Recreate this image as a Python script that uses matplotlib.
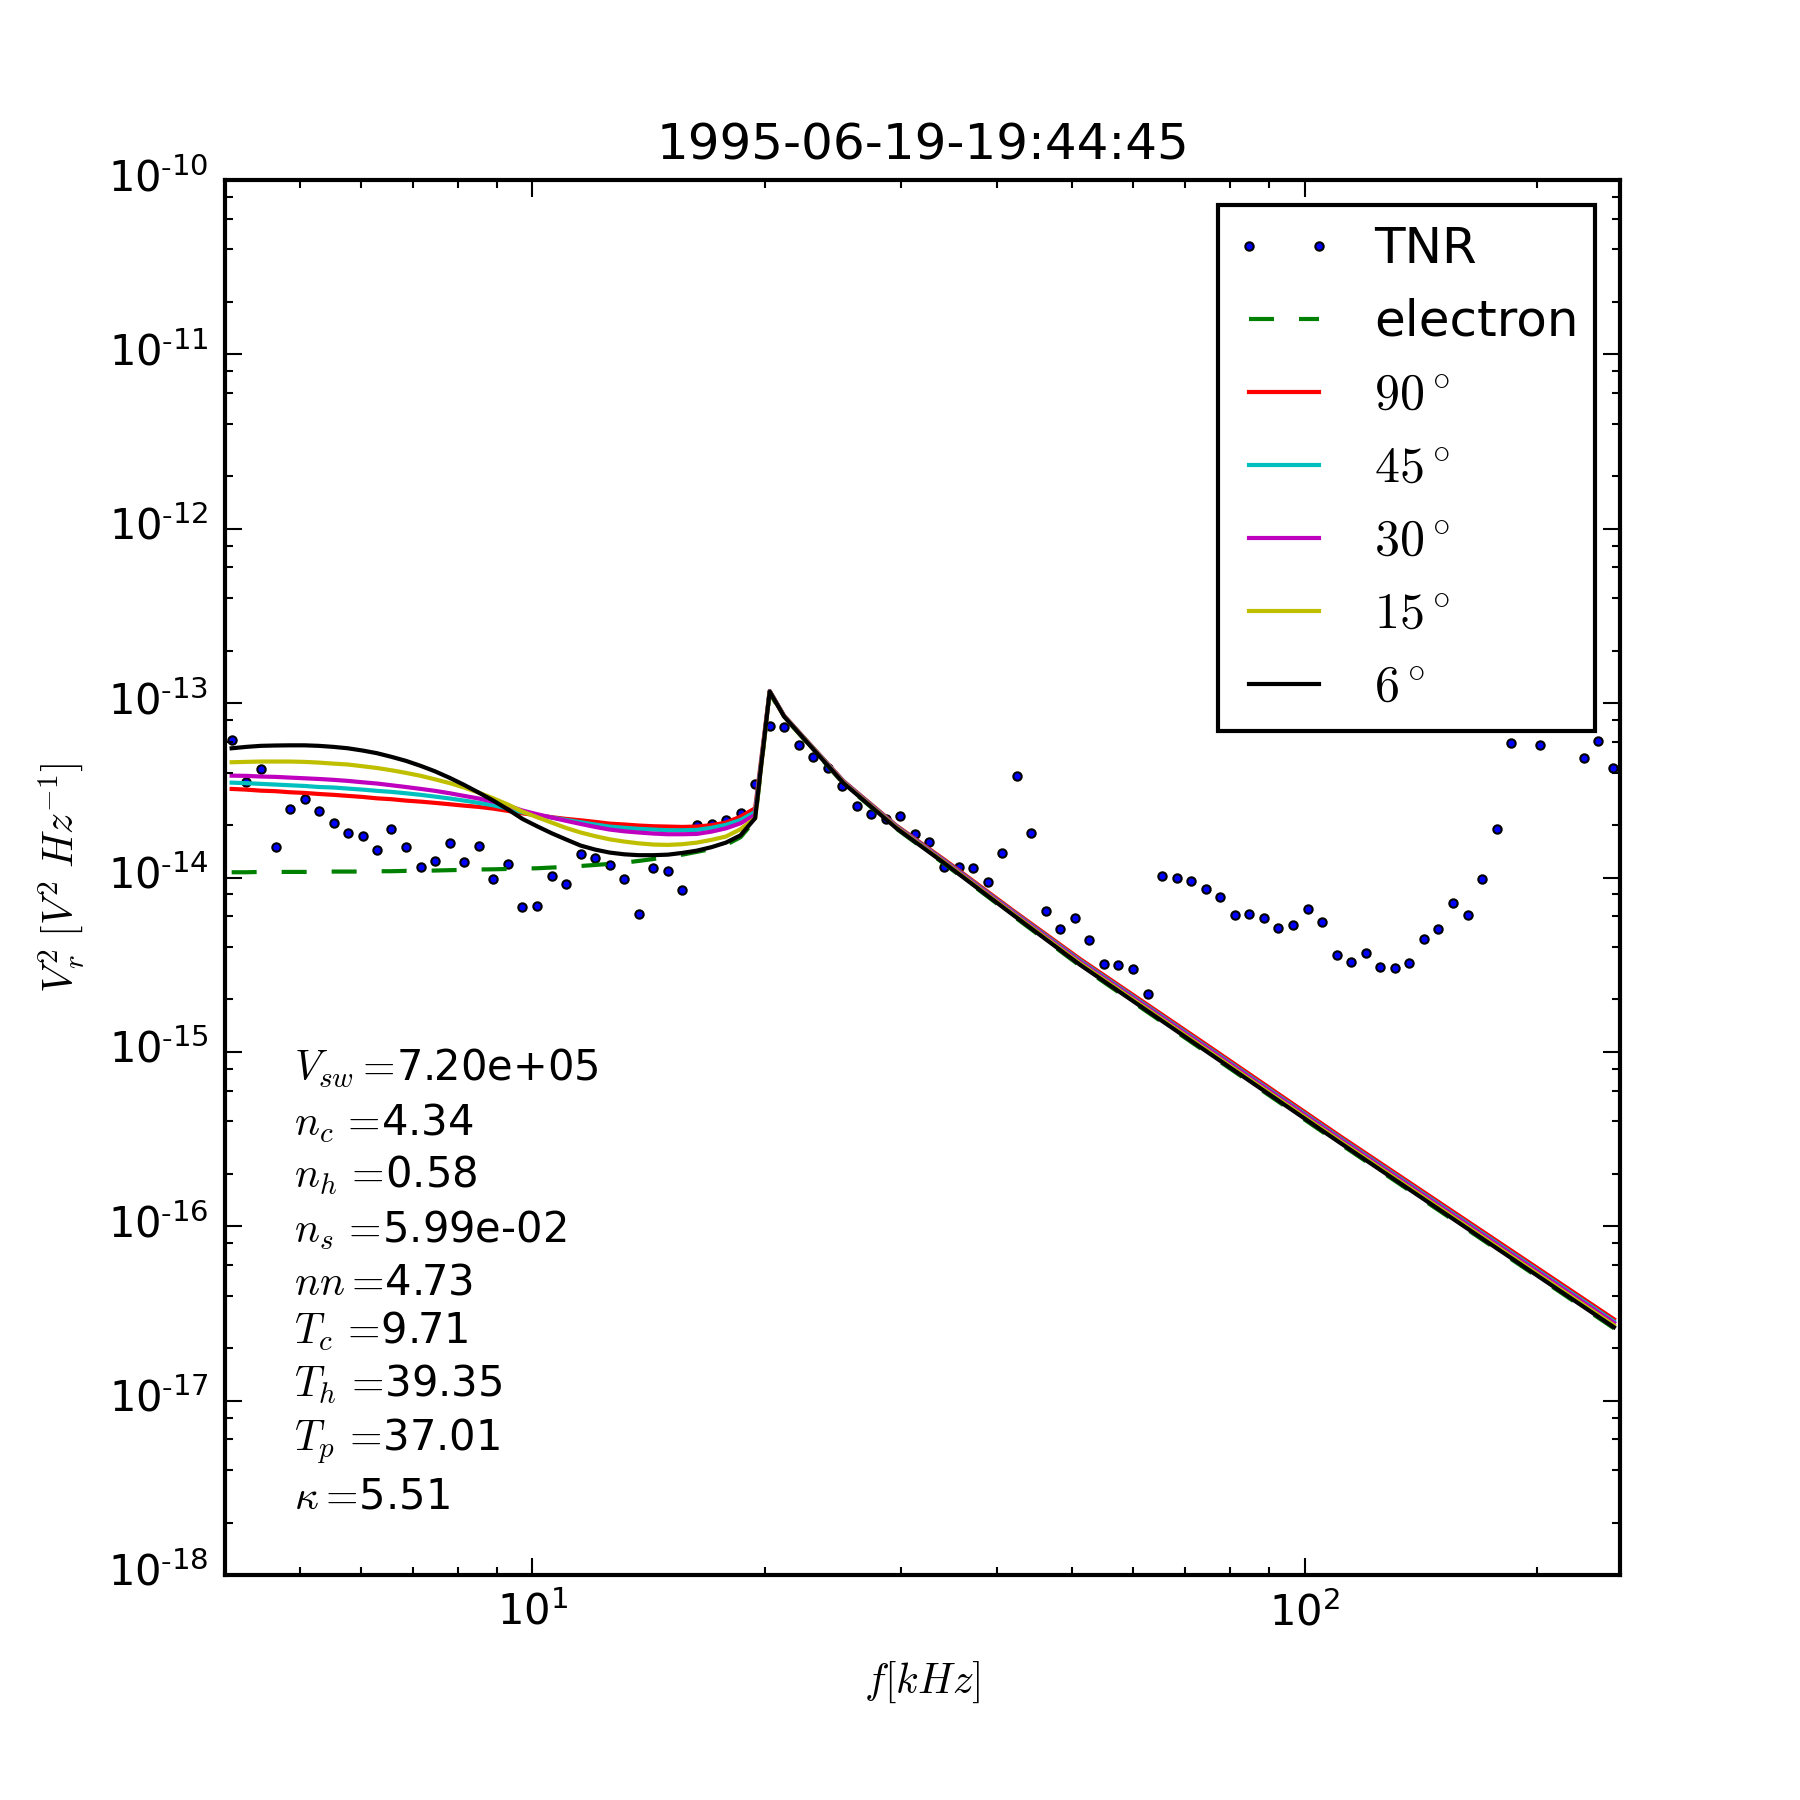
import numpy as np
import matplotlib
matplotlib.use("Agg")
import matplotlib.pyplot as plt
from matplotlib.transforms import ScaledTranslation

plt.style.use("classic")
plt.rcParams["font.family"] = ["DejaVu Sans"]
plt.rcParams["mathtext.fontset"] = "cm"

title = "1995-06-19-19:44:45"
xlabel = r"$f [kHz]$"
ylabel = r"$V_r^2 \;[V^2 \; Hz^{-1}]$"
param_labels = [r"$V_{sw}=\!$7.20e+05", r"$n_c\,=\!$4.34", r"$n_h\,=\!$0.58", r"$n_s\,=\!$5.99e-02",
                r"$nn=\!$4.73", r"$T_c\,=\!$9.71", r"$T_h\,=\!$39.35", r"$T_p\,=\!$37.01", r"$\kappa=\!$5.51"]
param_y = [0.3543, 0.3148, 0.2776, 0.2384, 0.2009, 0.1660, 0.1277, 0.0893, 0.0475]

tnr_f = [4.08, 4.26, 4.45, 4.65, 4.85, 5.07, 5.29, 5.53, 5.77, 6.03, 6.29, 6.57, 6.86, 7.17, 7.48, 7.82,
         8.16, 8.52, 8.90, 9.30, 9.71, 10.14, 10.59, 11.06, 11.55, 12.06, 12.59, 13.15, 13.73, 14.34, 14.98, 15.64,
         16.33, 17.06, 17.81, 18.60, 19.43, 20.29, 21.18, 22.12, 23.10, 24.12, 25.19, 26.30, 27.47, 28.69, 29.96, 31.29,
         32.67, 34.12, 35.63, 37.21, 38.86, 40.58, 42.38, 44.25, 46.22, 48.26, 50.40, 52.64, 54.97, 57.40, 59.95, 62.60,
         65.38, 68.27, 71.30, 74.46, 77.76, 81.20, 84.80, 88.56, 92.48, 96.58, 100.86, 105.33, 110.0, 114.9, 119.9, 125.3,
         130.8, 136.6, 142.7, 149.0, 155.6, 162.5, 169.7, 177.2, 185.1, 201.8, 229.9, 240.1, 250.7]
tnr_log = [-13.211, -13.454, -13.375, -13.823, -13.605, -13.549, -13.616, -13.685, -13.742, -13.760, -13.842, -13.719,
           -13.823, -13.937, -13.905, -13.800, -13.909, -13.817, -14.008, -13.920, -14.169, -14.163, -13.989, -14.037,
           -13.863, -13.886, -13.926, -14.008, -14.209, -13.945, -13.960, -14.071, -13.698, -13.696, -13.670, -13.628,
           -13.463, -13.129, -13.137, -13.240, -13.310, -13.374, -13.475, -13.590, -13.636, -13.664, -13.647, -13.750,
           -13.794, -13.940, -13.938, -13.943, -14.026, -13.859, -13.418, -13.745, -14.190, -14.295, -14.232, -14.358,
           -14.496, -14.501, -14.524, -14.668, -13.991, -14.003, -14.020, -14.066, -14.112, -14.215, -14.209, -14.232,
           -14.289, -14.272, -14.180, -14.255, -14.444, -14.484, -14.433, -14.513, -14.519, -14.490, -14.352, -14.295,
           -14.146, -14.215, -14.008, -13.722, -13.229, -13.240, -13.315, -13.217, -13.374]

curve_f = [4.08, 4.26, 4.45, 4.65, 4.85, 5.07, 5.29, 5.53, 5.77, 6.03, 6.29, 6.57, 6.86, 7.17, 7.48, 7.82,
           8.16, 8.52, 8.90, 9.30, 9.71, 10.14, 10.59, 11.06, 11.55, 12.06, 12.59, 13.15, 13.73, 14.34, 14.98, 15.64,
           16.33, 17.06, 17.81, 18.60, 19.43, 20.29, 21.18, 23.10, 25.3, 29.6, 34.4, 41.9, 51.2, 75.0, 111.0, 251.4]
electron_log = [-13.970, -13.970, -13.968, -13.968, -13.968, -13.968, -13.968, -13.966, -13.966, -13.966, -13.964,
                -13.964, -13.962, -13.962, -13.960, -13.958, -13.956, -13.954, -13.953, -13.951, -13.949, -13.947,
                -13.943, -13.939, -13.934, -13.928, -13.922, -13.915, -13.905, -13.894, -13.880, -13.869, -13.853,
                -13.836, -13.813, -13.769, -13.670, -12.943,
                -13.079, -13.266, -13.463, -13.720, -13.932, -14.219, -14.507, -15.010, -15.526, -16.585]
deg90_log = [-13.492, -13.496, -13.502, -13.505, -13.511, -13.515, -13.521, -13.526, -13.532, -13.538, -13.546,
             -13.551, -13.559, -13.565, -13.572, -13.580, -13.588, -13.595, -13.605, -13.618, -13.632, -13.643,
             -13.654, -13.664, -13.672, -13.681, -13.691, -13.696, -13.702, -13.706, -13.708, -13.710, -13.708,
             -13.700, -13.685, -13.651, -13.603, -12.930,
             -13.072, -13.256, -13.448, -13.702, -13.908, -14.189, -14.468, -14.966, -15.482, -16.533]
deg45_log = [-13.456, -13.459, -13.463, -13.467, -13.471, -13.475, -13.481, -13.484, -13.490, -13.496, -13.503,
             -13.509, -13.517, -13.526, -13.536, -13.547, -13.559, -13.572, -13.586, -13.605, -13.626, -13.641,
             -13.656, -13.670, -13.683, -13.696, -13.708, -13.715, -13.721, -13.725, -13.729, -13.729, -13.727,
             -13.715, -13.698, -13.670, -13.624, -12.931,
             -13.073, -13.258, -13.451, -13.706, -13.914, -14.196, -14.477, -14.977, -15.493, -16.546]
deg30_log = [-13.416, -13.417, -13.421, -13.423, -13.427, -13.431, -13.435, -13.440, -13.446, -13.454, -13.461,
             -13.471, -13.481, -13.492, -13.503, -13.517, -13.532, -13.547, -13.565, -13.589, -13.616, -13.637,
             -13.656, -13.675, -13.693, -13.710, -13.725, -13.735, -13.742, -13.748, -13.752, -13.752, -13.750,
             -13.737, -13.718, -13.689, -13.641, -12.932,
             -13.074, -13.260, -13.453, -13.709, -13.917, -14.200, -14.483, -14.983, -15.499, -16.554]
deg15_log = [-13.339, -13.337, -13.335, -13.335, -13.335, -13.337, -13.341, -13.347, -13.352, -13.362, -13.372,
             -13.385, -13.400, -13.417, -13.437, -13.459, -13.484, -13.513, -13.546, -13.582, -13.622, -13.654,
             -13.685, -13.716, -13.742, -13.763, -13.781, -13.794, -13.804, -13.811, -13.813, -13.809, -13.800,
             -13.784, -13.765, -13.723, -13.660, -12.934,
             -13.076, -13.262, -13.457, -13.713, -13.923, -14.208, -14.493, -14.995, -15.511, -16.568]
deg6_log = [-13.259, -13.251, -13.245, -13.243, -13.242, -13.242, -13.245, -13.251, -13.259, -13.272, -13.287,
            -13.308, -13.331, -13.360, -13.391, -13.429, -13.469, -13.513, -13.559, -13.610, -13.664, -13.706,
            -13.746, -13.782, -13.817, -13.840, -13.857, -13.867, -13.872, -13.872, -13.869, -13.859, -13.846,
            -13.826, -13.800, -13.758, -13.660, -12.934,
            -13.077, -13.264, -13.460, -13.717, -13.928, -14.214, -14.501, -15.004, -15.520, -16.579]


def v(a):
    return 10.0 ** np.array(a)


fig = plt.figure(figsize=(6, 6), dpi=300)
ax = fig.add_axes([0.125, 0.125, 0.775, 0.775])
ax.plot(tnr_f, v(tnr_log), "o", ms=2.0, mfc="b", mec="k", mew=0.5, label="TNR")
ax.plot(curve_f, v(electron_log), "g--", label="electron")
ax.plot(curve_f, v(deg90_log), "r", label=r"$90^\circ$")
ax.plot(curve_f, v(deg45_log), "c", label=r"$45^\circ$")
ax.plot(curve_f, v(deg30_log), "m", label=r"$30^\circ$")
ax.plot(curve_f, v(deg15_log), "y", label=r"$15^\circ$")
ax.plot(curve_f, v(deg6_log), "k", label=r"$6^\circ$")
ax.set_xscale("log")
ax.set_yscale("log")
ax.set_xlim(4, 256)
ax.set_ylim(1e-18, 1e-10)
ax.set_yticks([10.0 ** e for e in range(-18, -9)])
ax.set_yticklabels([r"$\mathdefault{10^{\text{-}%d}}$" % -e for e in range(-18, -9)])
ax.yaxis.set_minor_locator(matplotlib.ticker.LogLocator(base=10, subs=(2, 4, 6, 8), numticks=20))
ax.yaxis.set_minor_formatter(matplotlib.ticker.NullFormatter())
ax.tick_params(axis="both", which="major", labelsize=10)
shift = ScaledTranslation(0, 0.3 / 72, fig.dpi_scale_trans)
for lab in ax.get_yticklabels():
    lab.set_transform(lab.get_transform() + shift)
ax.set_title(title, fontsize=12)
ax.set_xlabel(xlabel, fontsize=10, labelpad=6.1)
ax.set_ylabel(ylabel, fontsize=10)
for s, y in zip(param_labels, param_y):
    ax.text(0.0497, y, s, transform=ax.transAxes, fontsize=10, va="baseline")
leg = ax.legend(loc="upper right", fontsize=12, numpoints=2, labelspacing=0.5)
leg._legend_box.set_width(337)
fig.savefig("out.png", dpi=300)
